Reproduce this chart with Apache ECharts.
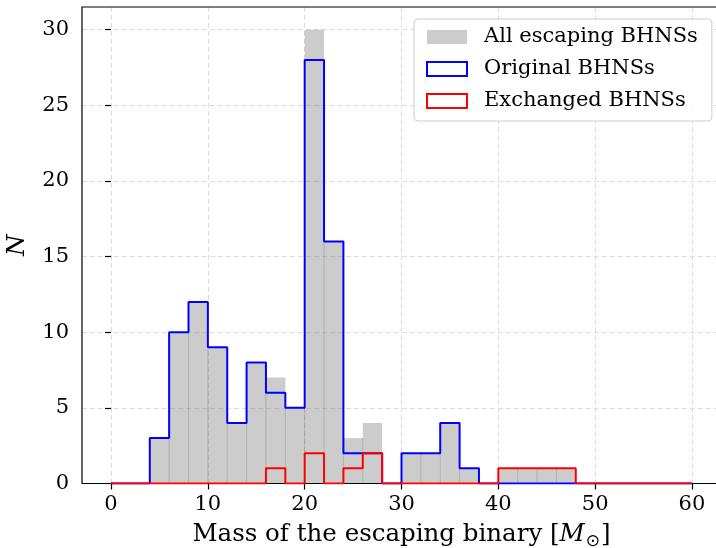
<!DOCTYPE html>
<html>
<head>
<meta charset="utf-8">
<script src="https://cdn.jsdelivr.net/npm/echarts@6/dist/echarts.min.js"></script>
<style>
  html, body { margin: 0; padding: 0; background: #fff; }
  #chart { width: 716px; height: 548px; }
</style>
</head>
<body>
<div id="chart"></div>
<script>
// Histogram of escaping BH-NS binary masses, 2 Msun bins from 0 to 60
const binWidth = 2;
const binEdges = Array.from({ length: 31 }, (_, i) => i * binWidth);

const allCounts       = [0, 0, 3, 10, 12, 9, 4, 8, 7, 5, 30, 16, 3, 4, 0, 2, 2, 4, 1, 0, 1, 1, 1, 1, 0, 0, 0, 0, 0, 0];
const originalCounts  = [0, 0, 3, 10, 12, 9, 4, 8, 6, 5, 28, 16, 2, 2, 0, 2, 2, 4, 1, 0, 0, 0, 0, 0, 0, 0, 0, 0, 0, 0];
const exchangedCounts = [0, 0, 0, 0, 0, 0, 0, 0, 1, 0, 2, 0, 1, 2, 0, 0, 0, 0, 0, 0, 1, 1, 1, 1, 0, 0, 0, 0, 0, 0];

const xTicks = [0, 10, 20, 30, 40, 50, 60];
const yTicks = [0, 5, 10, 15, 20, 25, 30];

const seriesNames = ['All escaping BHNSs', 'Original BHNSs', 'Exchanged BHNSs'];

// Axis extents (5% padding around the data range)
const X_MIN = -3, X_MAX = 63;
const Y_MIN = 0, Y_MAX = 31.5;

// Plot frame in pixels
const FRAME_LEFT = 82, FRAME_TOP = 7, FRAME_W = 639, FRAME_H = 476.5;
const pxPerUnit = FRAME_W / (X_MAX - X_MIN);

const SERIF = 'DejaVu Serif';
const gridLine = { show: true, lineStyle: { color: '#dcdcdc', type: [5, 3], width: 1 } };

// Step outline points: horizontal at each bin's count, closing at the last edge
function stepPoints(counts) {
  const pts = counts.map((c, i) => [binEdges[i], c]);
  pts.push([binEdges[binEdges.length - 1], 0]);
  return pts;
}

const barData = allCounts.map((n, i) => [binEdges[i], binEdges[i + 1], n, i > 0 ? allCounts[i - 1] : 0]);

const chart = echarts.init(document.getElementById('chart'), null, { renderer: 'canvas' });

chart.setOption({
  animation: false,
  backgroundColor: '#ffffff',
  grid: [
    { // data area with black frame
      left: FRAME_LEFT, top: FRAME_TOP, width: FRAME_W, height: FRAME_H,
      outerBoundsMode: 'none', containLabel: false,
      show: true, borderColor: '#000', borderWidth: 1.2, backgroundColor: 'transparent', z: 3
    },
    { // tick/label area covering x = 0..60
      left: FRAME_LEFT + (0 - X_MIN) * pxPerUnit, top: FRAME_TOP,
      width: (60 - 0) * pxPerUnit, height: FRAME_H,
      outerBoundsMode: 'none', containLabel: false
    }
  ],
  xAxis: [
    {
      gridIndex: 0, type: 'value', min: X_MIN, max: X_MAX,
      axisLine: { show: false }, axisTick: { show: false }, axisLabel: { show: false },
      splitLine: { show: false },
      name: '{t|Mass of the escaping binary [}{m|M}{s|⊙}{t|]}',
      nameLocation: 'middle', nameGap: 36,
      nameTextStyle: {
        rich: {
          t: { fontFamily: SERIF, fontSize: 24.5, color: '#000' },
          m: { fontFamily: SERIF, fontStyle: 'italic', fontSize: 24.5, color: '#000' },
          s: { fontFamily: 'DejaVu Sans', fontSize: 17, color: '#000', padding: [14, 1, 0, 1] }
        }
      }
    },
    {
      gridIndex: 1, type: 'value', min: 0, max: 60, interval: 10,
      axisLine: { show: false },
      axisTick: { show: true, inside: false, length: 6, lineStyle: { color: '#000', width: 1.2 } },
      axisLabel: { fontFamily: SERIF, fontSize: 21, color: '#000', margin: 11 },
      splitLine: gridLine
    }
  ],
  yAxis: [
    {
      gridIndex: 0, type: 'value', min: Y_MIN, max: Y_MAX,
      axisLine: { show: false },
      axisTick: { show: true, length: 6, lineStyle: { color: '#000', width: 1.2 }, customValues: yTicks },
      axisLabel: { fontFamily: SERIF, fontSize: 21, color: '#000', margin: 13, customValues: yTicks },
      splitLine: gridLine,
      name: 'N', nameLocation: 'middle', nameGap: 52, nameRotate: 90,
      nameTextStyle: { fontFamily: SERIF, fontStyle: 'italic', fontSize: 24.5, color: '#000' }
    },
    {
      gridIndex: 1, type: 'value', min: Y_MIN, max: Y_MAX, show: false
    }
  ],
  legend: {
    orient: 'vertical',
    left: 414, top: 19,
    padding: [6, 14, 8, 12],
    itemWidth: 40, itemHeight: 14, itemGap: 8,
    backgroundColor: 'rgba(255,255,255,0.85)',
    borderColor: '#cccccc', borderWidth: 1, borderRadius: 4,
    textStyle: { fontFamily: SERIF, fontSize: 21, color: '#000', lineHeight: 24, padding: [0, 0, 0, 12] },
    data: [
      { name: seriesNames[0], icon: 'rect', itemStyle: { color: '#cccccc', borderWidth: 0 } },
      { name: seriesNames[1], icon: 'rect', itemStyle: { color: '#ffffff', borderColor: '#0000ff', borderWidth: 2 } },
      { name: seriesNames[2], icon: 'rect', itemStyle: { color: '#ffffff', borderColor: '#ff0000', borderWidth: 2 } }
    ]
  },
  series: [
    {
      name: seriesNames[0],
      type: 'custom',
      xAxisIndex: 0, yAxisIndex: 0,
      itemStyle: { color: '#cccccc' },
      encode: { x: [0, 1], y: 2 },
      data: barData,
      z: 1,
      renderItem(params, api) {
        const x0 = api.value(0), x1 = api.value(1), n = api.value(2), prev = api.value(3);
        const base = api.coord([x0, 0]);
        const top = api.coord([x1, n]);
        const children = [];
        if (n > 0) {
          children.push({
            type: 'rect',
            shape: { x: base[0], y: top[1], width: top[0] - base[0], height: base[1] - top[1] },
            style: { fill: 'rgba(128,128,128,0.4)' }
          });
        }
        const seam = Math.min(prev, n);
        if (seam > 0) {
          const s = api.coord([x0, seam]);
          children.push({
            type: 'line',
            shape: { x1: base[0], y1: base[1], x2: base[0], y2: s[1] },
            style: { stroke: 'rgba(120,120,120,0.35)', lineWidth: 1 }
          });
        }
        return { type: 'group', children };
      }
    },
    {
      name: seriesNames[1],
      type: 'line', step: 'end', symbol: 'none',
      xAxisIndex: 0, yAxisIndex: 0,
      color: '#0000ff',
      lineStyle: { color: '#0000ff', width: 2 },
      data: stepPoints(originalCounts),
      z: 4
    },
    {
      name: seriesNames[2],
      type: 'line', step: 'end', symbol: 'none',
      xAxisIndex: 0, yAxisIndex: 0,
      color: '#ff0000',
      lineStyle: { color: '#ff0000', width: 2 },
      data: stepPoints(exchangedCounts),
      z: 5
    }
  ]
});
</script>
</body>
</html>
